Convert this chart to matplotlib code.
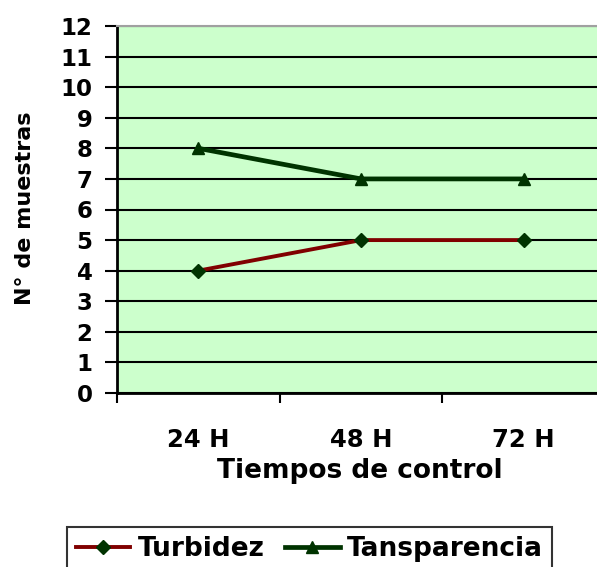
import matplotlib.pyplot as plt

# datos
tiempos = ["24 H", "48 H", "72 H"]
turbidez = [4, 5, 5]
transparencia = [8, 7, 7]

plt.rcParams['font.family'] = ['DejaVu Sans']
plt.rcParams['font.weight'] = 'bold'

W, H = 597, 567
fig = plt.figure(figsize=(W / 100, H / 100), dpi=100)
ax = fig.add_axes([117 / W, 1 - 393 / H, 488 / W, 367 / H])
ax.set_facecolor("#ccffcc")

x = list(range(len(tiempos)))
ax.plot(x, turbidez, color="#800000", lw=2.8, marker="D", ms=7.5,
        mfc="#003300", mec="#003300", label="Turbidez", zorder=3)
ax.plot(x, transparencia, color="#003300", lw=3.4, marker="^", ms=9,
        mfc="#003300", mec="#003300", label="Tansparencia", zorder=3)

ax.set_xlim(-0.5, 2.5)
ax.set_ylim(0, 12)
ax.set_yticks(range(0, 13))
ax.yaxis.grid(True, color="black", lw=1.5)
ax.set_axisbelow(True)

# marcas entre categorias, etiquetas en el centro
ax.set_xticks([-0.5, 0.5, 1.5, 2.5])
ax.set_xticklabels([])
ax.set_xticks(x, minor=True)
ax.set_xticklabels(tiempos, minor=True, fontsize=17.5, fontweight="bold")
ax.tick_params(axis="x", which="minor", length=0, pad=25)
ax.tick_params(axis="x", which="major", length=7, width=1.5, direction="out")
ax.tick_params(axis="y", length=8.6, width=1.5, direction="out", labelsize=16.5, pad=9)

for s in ["left", "bottom"]:
    ax.spines[s].set_linewidth(2)
    ax.spines[s].set_color("black")
ax.spines["top"].set_color("#a0a0a0")
ax.spines["top"].set_linewidth(1.5)
ax.spines["right"].set_visible(False)

fig.text(359.5 / W, 1 - 478 / H, "Tiempos de control", fontsize=19,
         fontweight="bold", ha="center", va="baseline")
fig.text(25 / W, 1 - 208 / H, "N° de muestras", rotation=90, fontsize=16,
         fontweight="bold", ha="center", va="center")

leg = fig.legend(loc="upper left", bbox_to_anchor=(67 / W, 1 - 527 / H), ncol=2,
                 frameon=True, fancybox=False, edgecolor="black", fontsize=19,
                 handlelength=2.05, columnspacing=0.8, handletextpad=0.27,
                 borderpad=0.35, borderaxespad=0)
leg.get_frame().set_linewidth(1.5)
for t in leg.get_texts():
    t.set_fontweight("bold")

fig.savefig("out.png", dpi=100)
